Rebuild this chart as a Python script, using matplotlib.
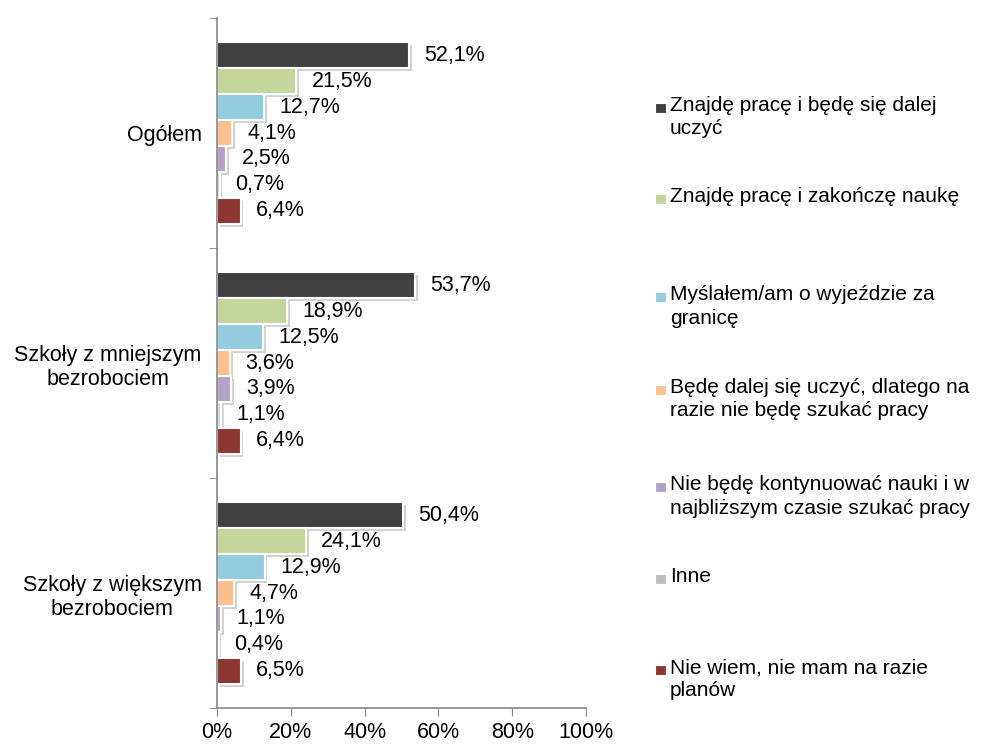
import matplotlib
matplotlib.use('Agg')
import matplotlib.pyplot as plt
import matplotlib.patheffects as pe
from matplotlib.patches import Rectangle
import numpy as np

plt.rcParams['font.family'] = ['Liberation Sans', 'DejaVu Sans']

# Data
groups = ['Ogółem', 'Szkoły z mniejszym\nbezrobociem', 'Szkoły z większym\nbezrobociem']
series = [
    'Znajdę pracę i będę się dalej\nuczyć',
    'Znajdę pracę i zakończę naukę',
    'Myślałem/am o wyjeździe za\ngranicę',
    'Będę dalej się uczyć, dlatego na\nrazie nie będę szukać pracy',
    'Nie będę kontynuować nauki i w\nnajbliższym czasie szukać pracy',
    'Inne',
    'Nie wiem, nie mam na razie\nplanów',
]
values = [
    [52.1, 53.7, 50.4],
    [21.5, 18.9, 24.1],
    [12.7, 12.5, 12.9],
    [4.1, 3.6, 4.7],
    [2.5, 3.9, 1.1],
    [0.7, 1.1, 0.4],
    [6.4, 6.4, 6.5],
]
colors = ['#404040', '#C3D69B', '#93CDDD', '#FAC090', '#B3A2C7', '#D9D9D9', '#8E3634']
legend_colors = ['#404040', '#C3D69B', '#93CDDD', '#FAC090', '#B3A2C7', '#BFBFBF', '#8E3634']

FS = 15.5

fig = plt.figure(figsize=(9.86, 7.44), dpi=100)
ax = fig.add_axes([217 / 986, 1 - 708 / 744, 369 / 986, 690 / 744])

n = len(series)
bh = 0.113
y = np.arange(len(groups))
shadow = [pe.SimplePatchShadow(offset=(2, -2), shadow_rgbFace='#909090', alpha=0.4), pe.Normal()]

for i, (name, vals, c) in enumerate(zip(series, values, colors)):
    pos = y - (n - 1) / 2 * bh + i * bh
    bars = ax.barh(pos, vals, height=bh, color=c, edgecolor='white', linewidth=1.5)
    for b in bars:
        b.set_path_effects(shadow)
    ax.bar_label(bars, labels=[f'{v:.1f}%'.replace('.', ',') for v in vals],
                 padding=11, fontsize=FS, color='#000000')

ax.set_xlim(0, 100)
ax.set_ylim(2.5, -0.5)
ax.set_xticks(np.arange(0, 101, 20))
ax.set_xticklabels([f'{t}%' for t in range(0, 101, 20)], fontsize=FS)
ax.set_yticks(y)
ax.set_yticklabels(groups, fontsize=FS, ma='center')
ax.tick_params(axis='y', which='major', length=0, pad=11)
ax.set_yticks([-0.5, 0.5, 1.5, 2.5], minor=True)
ax.tick_params(axis='y', which='minor', length=6, color='#868686', direction='out')
ax.tick_params(axis='x', length=6, color='#868686', direction='out', pad=4)

for s in ['top', 'right']:
    ax.spines[s].set_visible(False)
for s in ['left', 'bottom']:
    ax.spines[s].set_color('#868686')
    ax.spines[s].set_linewidth(1.2)

# Legend drawn by hand to match the spacing of the original
leg_y = [103, 194, 292, 385, 482, 574, 665]
for name, c, yy in zip(series, legend_colors, leg_y):
    fig.add_artist(Rectangle((655 / 986, 1 - (yy + 10) / 744), 11 / 986, 10 / 744,
                             transform=fig.transFigure, facecolor=c, edgecolor='white',
                             linewidth=0.8))
    fig.text(670 / 986, 1 - (yy - 7) / 744, name, fontsize=FS - 0.5, va='top', ha='left',
             linespacing=1.3)

fig.savefig('out.png', dpi=100)
